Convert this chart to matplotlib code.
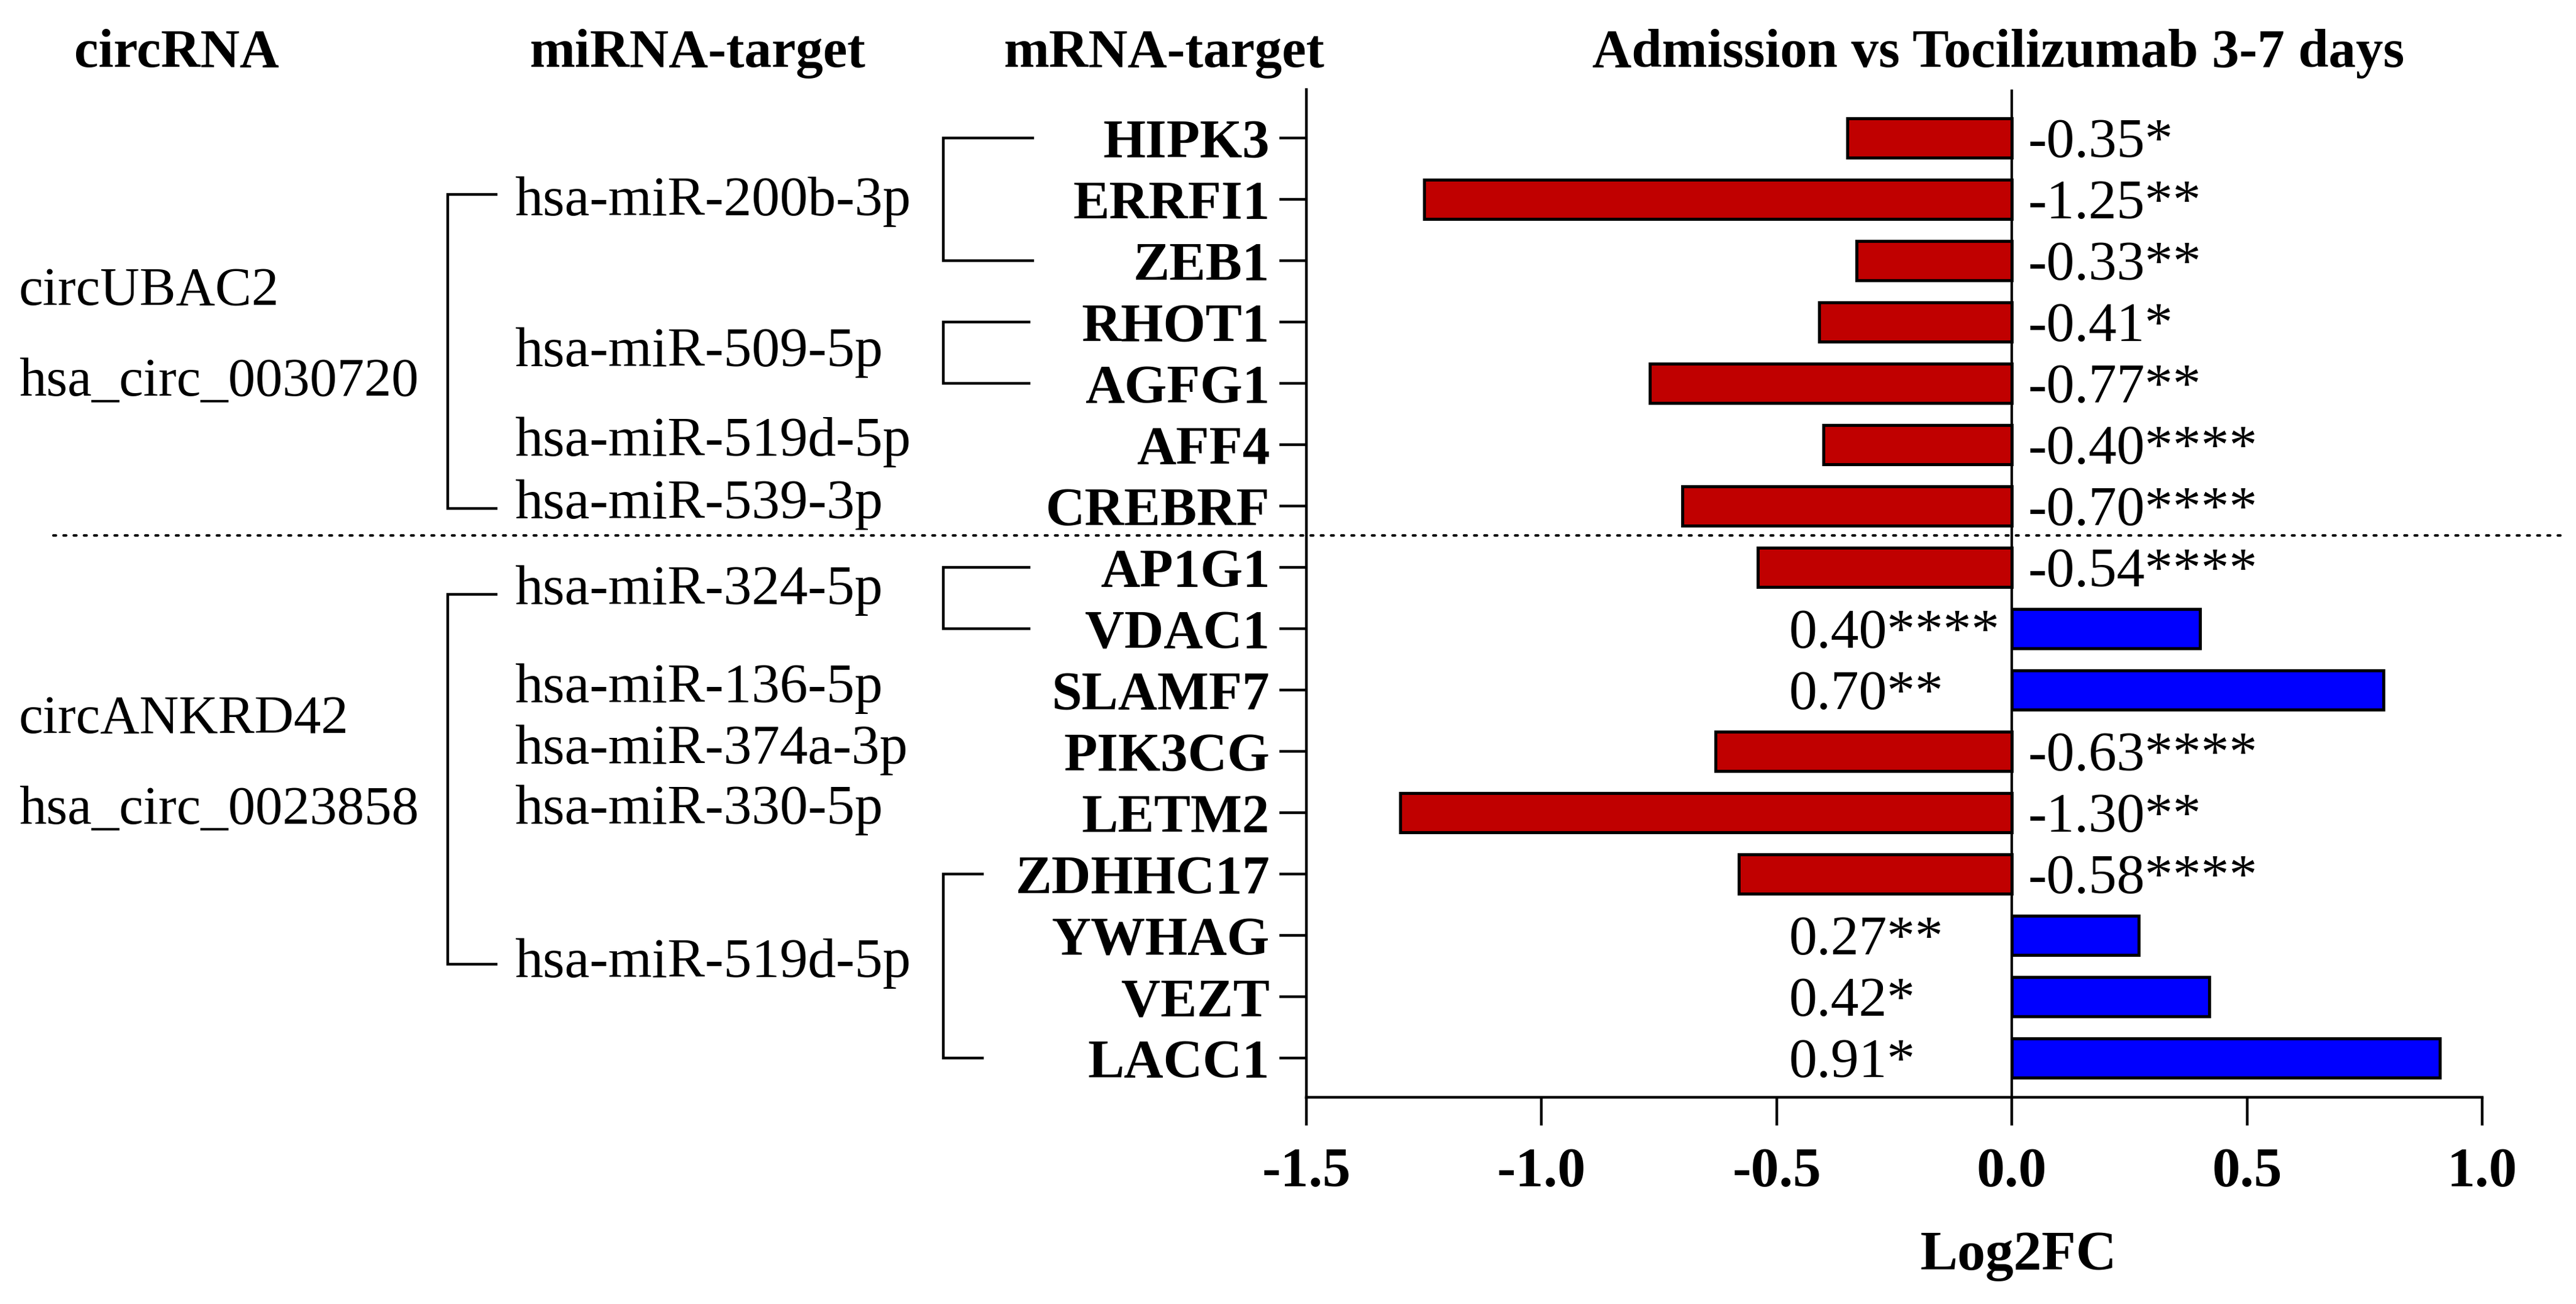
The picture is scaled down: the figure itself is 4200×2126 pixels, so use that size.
import numpy as np
import matplotlib
matplotlib.use("Agg")
import matplotlib.pyplot as plt
import matplotlib.transforms as mtransforms

plt.rcParams["font.family"] = ["Liberation Serif", "DejaVu Serif"]

# data
GENES = ["HIPK3", "ERRFI1", "ZEB1", "RHOT1", "AGFG1", "AFF4", "CREBRF",
         "AP1G1", "VDAC1", "SLAMF7", "PIK3CG", "LETM2", "ZDHHC17",
         "YWHAG", "VEZT", "LACC1"]
LOG2FC = [-0.35, -1.25, -0.33, -0.41, -0.77, -0.40, -0.70,
          -0.54, 0.40, 0.79, -0.63, -1.30, -0.58,
          0.27, 0.42, 0.91]
VALUE_LABELS = ["-0.35*", "-1.25**", "-0.33**", "-0.41*", "-0.77**",
                "-0.40****", "-0.70****", "-0.54****", "0.40****",
                "0.70**", "-0.63****", "-1.30**", "-0.58****",
                "0.27**", "0.42*", "0.91*"]

CIRC_NAMES = [("circUBAC2", "hsa_circ_0030720"),
              ("circANKRD42", "hsa_circ_0023858")]
MIRNA_NAMES = ["hsa-miR-200b-3p", "hsa-miR-509-5p", "hsa-miR-519d-5p",
               "hsa-miR-539-3p", "hsa-miR-324-5p", "hsa-miR-136-5p",
               "hsa-miR-374a-3p", "hsa-miR-330-5p", "hsa-miR-519d-5p"]
XTICKS = [-1.5, -1.0, -0.5, 0.0, 0.5, 1.0]

# layout (rows in axis units, x in figure pixels)
W, H = 4200, 2126
MIRNA_ROWS = [1.04, 3.5, 4.96, 5.98, 7.38, 8.98, 9.98, 10.96, 13.46]
CIRC_ROWS = [(2.5, 3.99), (9.48, 10.97)]
CIRC_BRACKETS = [(0.92, 6.04), (7.44, 13.47)]
MRNA_BRACKETS = [(0, 2, 1686), (3, 4, 1680), (7, 8, 1680), (12, 15, 1604)]
RED = "#C00000"
BLUE = "#0000FF"
FS = 32

rows = np.arange(len(GENES))
colors = [RED if v < 0 else BLUE for v in LOG2FC]

fig = plt.figure(figsize=(W / 200, H / 200), dpi=200)
ax_left, ax_right, ax_top, ax_bot = 2130, 4047, 146, 1789
ax = fig.add_axes([ax_left / W, 1 - ax_bot / H,
                   (ax_right - ax_left) / W, (ax_bot - ax_top) / H])

ax.barh(rows, LOG2FC, height=0.64, color=colors, edgecolor="black",
        linewidth=1.8, zorder=2)
ax.axvline(0, color="black", lw=1.5, zorder=3)

ax.set_xlim(-1.5, 1.0)
ax.set_ylim(15.64, -0.79)
ax.set_xticks(XTICKS)
ax.set_xticklabels([f"{t:.1f}" for t in XTICKS], fontsize=33, fontweight="bold")
ax.set_yticks(rows)
ax.set_yticklabels(GENES, fontsize=FS, fontweight="bold")
ax.tick_params(axis="y", length=16, width=1.6, pad=5.5)
ax.tick_params(axis="x", length=16.5, width=1.6, pad=13)
for s in ["top", "right"]:
    ax.spines[s].set_visible(False)
for s in ["left", "bottom"]:
    ax.spines[s].set_linewidth(1.6)

# value labels: negatives just right of zero, positives left-aligned in a column
pos_offset = (2916 - 3280) * 72 / 200  # points
for r, v, lab in zip(rows, LOG2FC, VALUE_LABELS):
    dx = 9.4 if v < 0 else pos_offset
    ax.annotate(lab, xy=(0, r), xytext=(dx, -11.2), textcoords="offset points",
                ha="left", va="baseline", fontsize=33)

fig.text(3291 / W, 1 - 2070 / H, "Log2FC", ha="center", va="baseline",
         fontsize=33, fontweight="bold")

# headers
for xc, txt in [(288, "circRNA"), (1138, "miRNA-target"), (1898, "mRNA-target"),
                (3258, "Admission vs Tocilizumab 3-7 days")]:
    fig.text(xc / W, 1 - 109 / H, txt, ha="center", va="baseline",
             fontsize=FS, fontweight="bold")

tr = mtransforms.blended_transform_factory(fig.transFigure, ax.transData)
line_kw = dict(color="black", lw=1.6, transform=tr, clip_on=False,
               solid_capstyle="butt", solid_joinstyle="miter")

# circRNA names and brackets
for (name, alias), (r1, r2) in zip(CIRC_NAMES, CIRC_ROWS):
    ax.text(31 / W, r1, name, transform=tr, ha="left", va="center",
            fontsize=FS)
    ax.text(31 / W, r2, alias, transform=tr, ha="left", va="center",
            fontsize=FS)
for top, bot in CIRC_BRACKETS:
    ax.plot([811 / W, 730 / W, 730 / W, 811 / W], [top, top, bot, bot], **line_kw)

# miRNA names
for name, r in zip(MIRNA_NAMES, MIRNA_ROWS):
    ax.text(839 / W, r, name, transform=tr, ha="left", va="center",
            fontsize=33)

# mRNA brackets
for top, bot, xend in MRNA_BRACKETS:
    ax.plot([xend / W, 1538 / W, 1538 / W, xend / W], [top, top, bot, bot], **line_kw)

# group separator
ax.plot([87 / W, 4182 / W], [6.48, 6.48], color="black", lw=1.5,
        linestyle=(0, (1, 3)), dash_capstyle="round", transform=tr, clip_on=False)

fig.savefig("out.png", dpi=200)
